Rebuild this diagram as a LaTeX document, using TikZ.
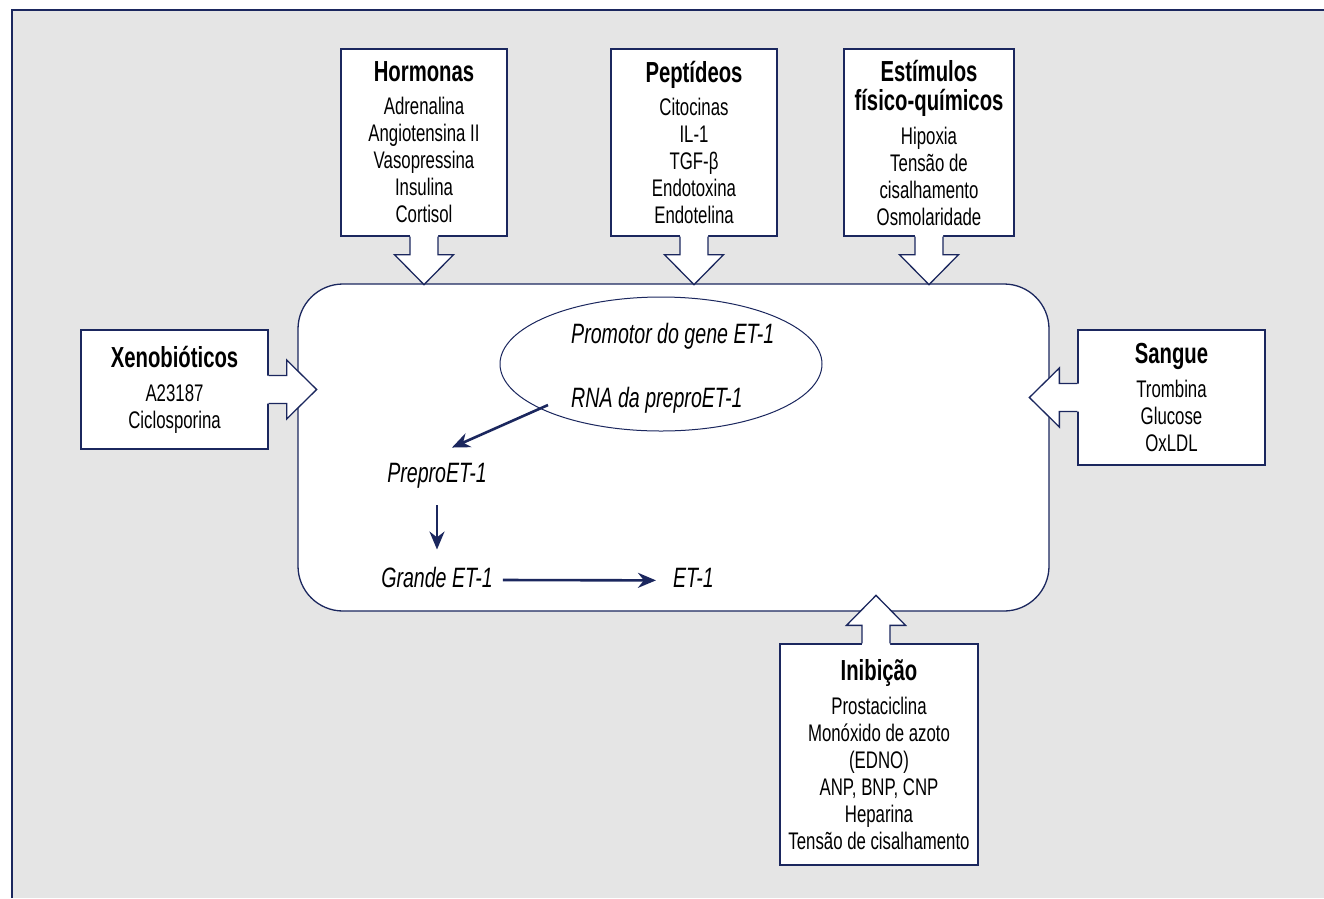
\documentclass[tikz,border=0pt]{standalone}
\usepackage{fontspec}
\setmainfont{Liberation Sans}[FakeStretch=0.7]
\usepackage{tikz}
\usetikzlibrary{arrows.meta,positioning,calc,shapes.geometric}
\definecolor{inkNavy}{RGB}{27, 39, 94}
\definecolor{paperGrey}{RGB}{229, 229, 229}
\tikzset{
    factorbox/.style={draw=inkNavy, line width=1.3pt, fill=white, align=center, inner sep=0pt,
        font=\fontsize{24pt}{27pt}\selectfont},
    stage/.style={inner sep=0pt, font=\fontsize{28pt}{30pt}\selectfont\itshape},
    flow/.style={draw=inkNavy, line width=2.6pt, -{Stealth[length=18pt,width=15pt]}},
}
\newcommand{\boxtitle}[1]{{\fontsize{29pt}{31pt}\selectfont\bfseries #1}}
% wide hollow arrow: base point, direction
\newcommand{\fatarrow}[2]{%
    \begin{scope}[shift={(#1)}, rotate=#2]
        \fill[white] (-1.5,-14) -- (18,-14) -- (18,-29.5) -- (48,0) -- (18,29.5) -- (18,14) -- (-1.5,14) -- cycle;
        \draw[inkNavy, line width=1.3pt] (0,-14) -- (18,-14) -- (18,-29.5) -- (48,0) -- (18,29.5) -- (18,14) -- (0,14);
    \end{scope}}

\begin{document}
\begin{tikzpicture}[x=1pt, y=-1pt]
    \useasboundingbox (0,0) rectangle (1324,898);
    \fill[paperGrey] (12,10) rectangle (1324,898);
    \draw[inkNavy, line width=2pt] (12,898) -- (12,10) -- (1324,10);

    % cell
    \node[draw=inkNavy, line width=1.3pt, fill=white, rounded corners=45pt,
        minimum width=751pt, minimum height=327pt] (cell) at (673.5,447.5) {};
    \node[draw=inkNavy, line width=1pt, ellipse, minimum width=322pt, minimum height=134pt,
        inner sep=0pt] (gene) at (661,364) {};
    \node[stage, anchor=base west] (promotor) at (571,343) {Promotor do gene ET-1};
    \node[stage, anchor=base west] (rna) at (571,407) {RNA da preproET-1};
    \node[stage, anchor=base] (prepro) at (437,482) {PreproET-1};
    \node[stage, anchor=base] (grande) at (437,587) {Grande ET-1};
    \node[stage, anchor=base] (et) at (693.5,587) {ET-1};

    \draw[flow] ([xshift=-23pt,yshift=8pt]rna.south west) -- ([xshift=15pt,yshift=15pt]prepro.north);
    \draw[flow] ([yshift=-17pt]prepro.south) -- ([yshift=17pt]grande.north);
    \draw[flow] ([xshift=10pt,yshift=-3pt]grande.east) -- ([xshift=-17pt,yshift=-3pt]et.west);

    % factors
    \node[factorbox, minimum width=166pt, minimum height=187pt] (hormonas) at (424,142.5) {
        \boxtitle{Hormonas}\\[6pt]
        Adrenalina\\ Angiotensina II\\ Vasopressina\\ Insulina\\ Cortisol};
    \node[factorbox, minimum width=166pt, minimum height=187pt] (peptideos) at (694,142.5) {
        \boxtitle{Peptídeos}\\[6pt]
        Citocinas\\ IL-1\\ TGF-β\\ Endotoxina\\ Endotelina};
    \node[factorbox, minimum width=170pt, minimum height=187pt] (estimulos) at (929,142.5) {
        \boxtitle{Estímulos}\\[2pt]
        \boxtitle{físico-químicos}\\[7pt]
        Hipoxia\\ Tensão de\\ cisalhamento\\ Osmolaridade};
    \node[factorbox, minimum width=187pt, minimum height=119pt] (xeno) at (174.5,389.5) {
        \boxtitle{Xenobióticos}\\[7pt]
        A23187\\ Ciclosporina};
    \node[factorbox, minimum width=187pt, minimum height=135pt] (sangue) at (1171.5,397.5) {
        \boxtitle{Sangue}\\[7pt]
        Trombina\\ Glucose\\ OxLDL};
    \node[factorbox, minimum width=198pt, minimum height=221pt] (inibicao) at (879,754.5) {
        \boxtitle{Inibição}\\[7pt]
        Prostaciclina\\ Monóxido de azoto\\ (EDNO)\\ ANP, BNP, CNP\\ Heparina\\ Tensão de cisalhamento};

    \fatarrow{hormonas.south}{-90}
    \fatarrow{peptideos.south}{-90}
    \fatarrow{estimulos.south}{-90}
    \fatarrow{xeno.east}{0}
    \fatarrow{sangue.west}{180}
    \fatarrow{$(inibicao.north)+(-3,0)$}{90}
\end{tikzpicture}
\end{document}
